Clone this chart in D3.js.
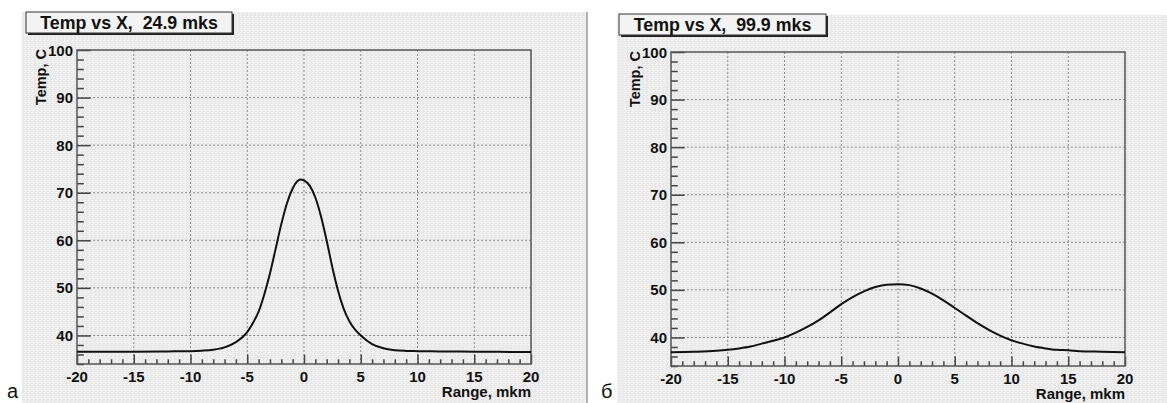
<!DOCTYPE html>
<html>
<head>
<meta charset="utf-8">
<script src="https://cdn.jsdelivr.net/npm/d3@7"></script>
<style>
  body { margin: 0; background: #fff; }
  svg { display: block; }
  text { font-family: "Liberation Sans", Arial, Helvetica, sans-serif; }
</style>
</head>
<body>
<svg id="chart" width="1167" height="403">
  <defs>
    <pattern id="speckle" width="4" height="4" patternUnits="userSpaceOnUse">
      <rect width="4" height="4" fill="#ececec"/>
      <rect x="0" y="0" width="1" height="1" fill="#f6f6f6"/>
      <rect x="2" y="1" width="1" height="1" fill="#e2e2e2"/>
      <rect x="1" y="2" width="1" height="1" fill="#f6f6f6"/>
      <rect x="3" y="3" width="1" height="1" fill="#e2e2e2"/>
    </pattern>
  </defs>
</svg>
<script>
// curve a: 24.9 mks
const rangeA = [-20, -15, -12, -10, -9, -8, -7, -6, -5, -4.5, -4, -3.5, -3, -2.5, -2, -1.5, -1, -0.6, -0.3, 0, 0.5, 1, 1.5, 2, 2.5, 3, 3.5, 4, 4.5, 5, 6, 7, 8, 9, 10, 12, 15, 20];
const tempA  = [36.6, 36.6, 36.65, 36.7, 36.8, 37.0, 37.5, 38.6, 40.7, 42.6, 45.0, 48.6, 53.0, 58.2, 63.4, 67.8, 70.9, 72.4, 72.8, 72.6, 71.5, 69.0, 65.0, 59.9, 54.3, 49.4, 45.6, 43.0, 41.2, 40.0, 38.2, 37.3, 36.9, 36.75, 36.7, 36.65, 36.6, 36.5];

// curve b: 99.9 mks
const rangeB = [-20, -18, -16, -15, -14, -13, -12, -11, -10, -9, -8, -7, -6, -5, -4, -3, -2, -1, 0, 1, 2, 3, 4, 5, 6, 7, 8, 9, 10, 11, 12, 13, 14, 15, 16, 18, 20];
const tempB  = [36.9, 37.0, 37.2, 37.4, 37.7, 38.1, 38.7, 39.3, 40.0, 41.0, 42.2, 43.6, 45.25, 47.0, 48.5, 49.7, 50.6, 51.1, 51.2, 51.0, 50.3, 49.2, 47.8, 46.2, 44.6, 43.0, 41.6, 40.4, 39.4, 38.7, 38.1, 37.7, 37.4, 37.3, 37.1, 37.0, 36.9];

const titles = ["Temp vs X,  24.9 mks", "Temp vs X,  99.9 mks"];
const letters = ["а", "б"];
const xTicks = [-20, -15, -10, -5, 0, 5, 10, 15, 20];
const yTicks = [40, 50, 60, 70, 80, 90, 100];
const xDomain = [-20, 20];
const yDomain = [34, 100];

const svg = d3.select("#chart");

function drawPanel(p) {
    const g = svg.append("g");

    // pad background
    g.append("rect")
        .attr("x", p.padX).attr("y", p.padY)
        .attr("width", p.padW).attr("height", 403 - p.padY)
        .attr("fill", "url(#speckle)");
    if (p.edge) {
        g.append("line")
            .attr("x1", p.padX + p.padW).attr("x2", p.padX + p.padW)
            .attr("y1", p.padY).attr("y2", 403)
            .attr("stroke", "#9a9a9a").attr("stroke-width", 1.5);
    }

    const x = d3.scaleLinear().domain(xDomain).range([p.left, p.right]);
    const y = d3.scaleLinear().domain(yDomain).range([p.bottom, p.top]);
    const h = p.bottom - p.top, w = p.right - p.left;

    // grid
    g.append("g").selectAll("line").data(xTicks.slice(1, -1)).join("line")
        .attr("x1", d => x(d)).attr("x2", d => x(d))
        .attr("y1", p.top).attr("y2", p.bottom)
        .attr("stroke", "#8c8c8c").attr("stroke-dasharray", "2,2");
    g.append("g").selectAll("line").data(yTicks.slice(0, -1)).join("line")
        .attr("x1", p.left).attr("x2", p.right)
        .attr("y1", d => y(d)).attr("y2", d => y(d))
        .attr("stroke", "#8c8c8c").attr("stroke-dasharray", "2,2");

    // x axis ticks (inward)
    const xAxis = d3.axisTop(x).tickValues(d3.range(-20, 21, 1))
        .tickFormat("").tickSizeOuter(0)
        .tickSize(0);
    const gx = g.append("g").attr("transform", `translate(0,${p.bottom})`).call(xAxis);
    gx.select(".domain").remove();
    gx.selectAll(".tick line")
        .attr("y2", d => d % 5 === 0 ? -0.03 * h : -0.015 * h)
        .attr("stroke", "#444").attr("stroke-width", 1.5);

    const yAxis = d3.axisRight(y).tickValues(d3.range(34, 101, 2))
        .tickFormat("").tickSizeOuter(0).tickSize(0);
    const gy = g.append("g").attr("transform", `translate(${p.left},0)`).call(yAxis);
    gy.select(".domain").remove();
    gy.selectAll(".tick line")
        .attr("x2", d => d % 10 === 0 ? 0.03 * w : 0.015 * w)
        .attr("stroke", "#444").attr("stroke-width", 1.5);

    // tick labels
    g.append("g").selectAll("text").data(xTicks).join("text")
        .attr("x", d => x(d)).attr("y", p.bottom + 18)
        .attr("text-anchor", "middle")
        .attr("font-size", 15).attr("font-weight", "bold").attr("fill", "#111")
        .text(d => d);
    g.append("g").selectAll("text").data(yTicks).join("text")
        .attr("x", p.left - 4).attr("y", d => y(d) + 5.5)
        .attr("text-anchor", "end")
        .attr("font-size", 15).attr("font-weight", "bold").attr("fill", "#111")
        .text(d => d);

    // frame
    g.append("rect")
        .attr("x", p.left).attr("y", p.top).attr("width", w).attr("height", h)
        .attr("fill", "none").attr("stroke", "#555").attr("stroke-width", 1.5);

    // curve
    const pts = p.xs.map((v, i) => [v, p.ys[i]]);
    g.append("path")
        .datum(pts)
        .attr("d", d3.line().x(d => x(d[0])).y(d => y(d[1])).curve(d3.curveMonotoneX))
        .attr("fill", "none").attr("stroke", "#111").attr("stroke-width", 2);

    // axis titles
    g.append("text")
        .attr("x", p.right).attr("y", p.bottom + 33)
        .attr("text-anchor", "end")
        .attr("font-size", 15).attr("font-weight", "bold").attr("fill", "#111")
        .text("Range, mkm");
    g.append("text")
        .attr("transform", `translate(${p.left - 31},${p.top - 1}) rotate(-90)`)
        .attr("text-anchor", "end")
        .attr("font-size", 14.5).attr("font-weight", "bold").attr("fill", "#111")
        .text("Temp, C");

    // title box
    g.append("rect")
        .attr("x", p.tx + 2).attr("y", p.ty + 2).attr("width", p.tw).attr("height", 21)
        .attr("fill", "#222");
    g.append("rect")
        .attr("x", p.tx).attr("y", p.ty).attr("width", p.tw).attr("height", 21)
        .attr("fill", "#f3f3f3").attr("stroke", "#333").attr("stroke-width", 1);
    g.append("text")
        .attr("x", p.tx + p.tw / 2).attr("y", p.ty + 17)
        .attr("text-anchor", "middle")
        .attr("font-size", 17.8).attr("font-weight", "bold").attr("fill", "#111")
        .attr("xml:space", "preserve").style("white-space", "pre")
        .text(p.title);

    // panel letter
    svg.append("text")
        .attr("x", p.lx).attr("y", 398)
        .attr("font-family", "'Liberation Serif', 'Times New Roman', serif")
        .attr("font-size", 20).attr("fill", "#111")
        .text(p.letter);
}

drawPanel({
    padX: 22, padY: 12, padW: 565, edge: true,
    left: 77, right: 531, top: 50, bottom: 364,
    tx: 26, ty: 12, tw: 206,
    xs: rangeA, ys: tempA, title: titles[0], letter: letters[0], lx: 7
});
drawPanel({
    padX: 617, padY: 15, padW: 550, edge: false,
    left: 671, right: 1125, top: 52, bottom: 366,
    tx: 619, ty: 14, tw: 207,
    xs: rangeB, ys: tempB, title: titles[1], letter: letters[1], lx: 601
});
</script>
</body>
</html>
